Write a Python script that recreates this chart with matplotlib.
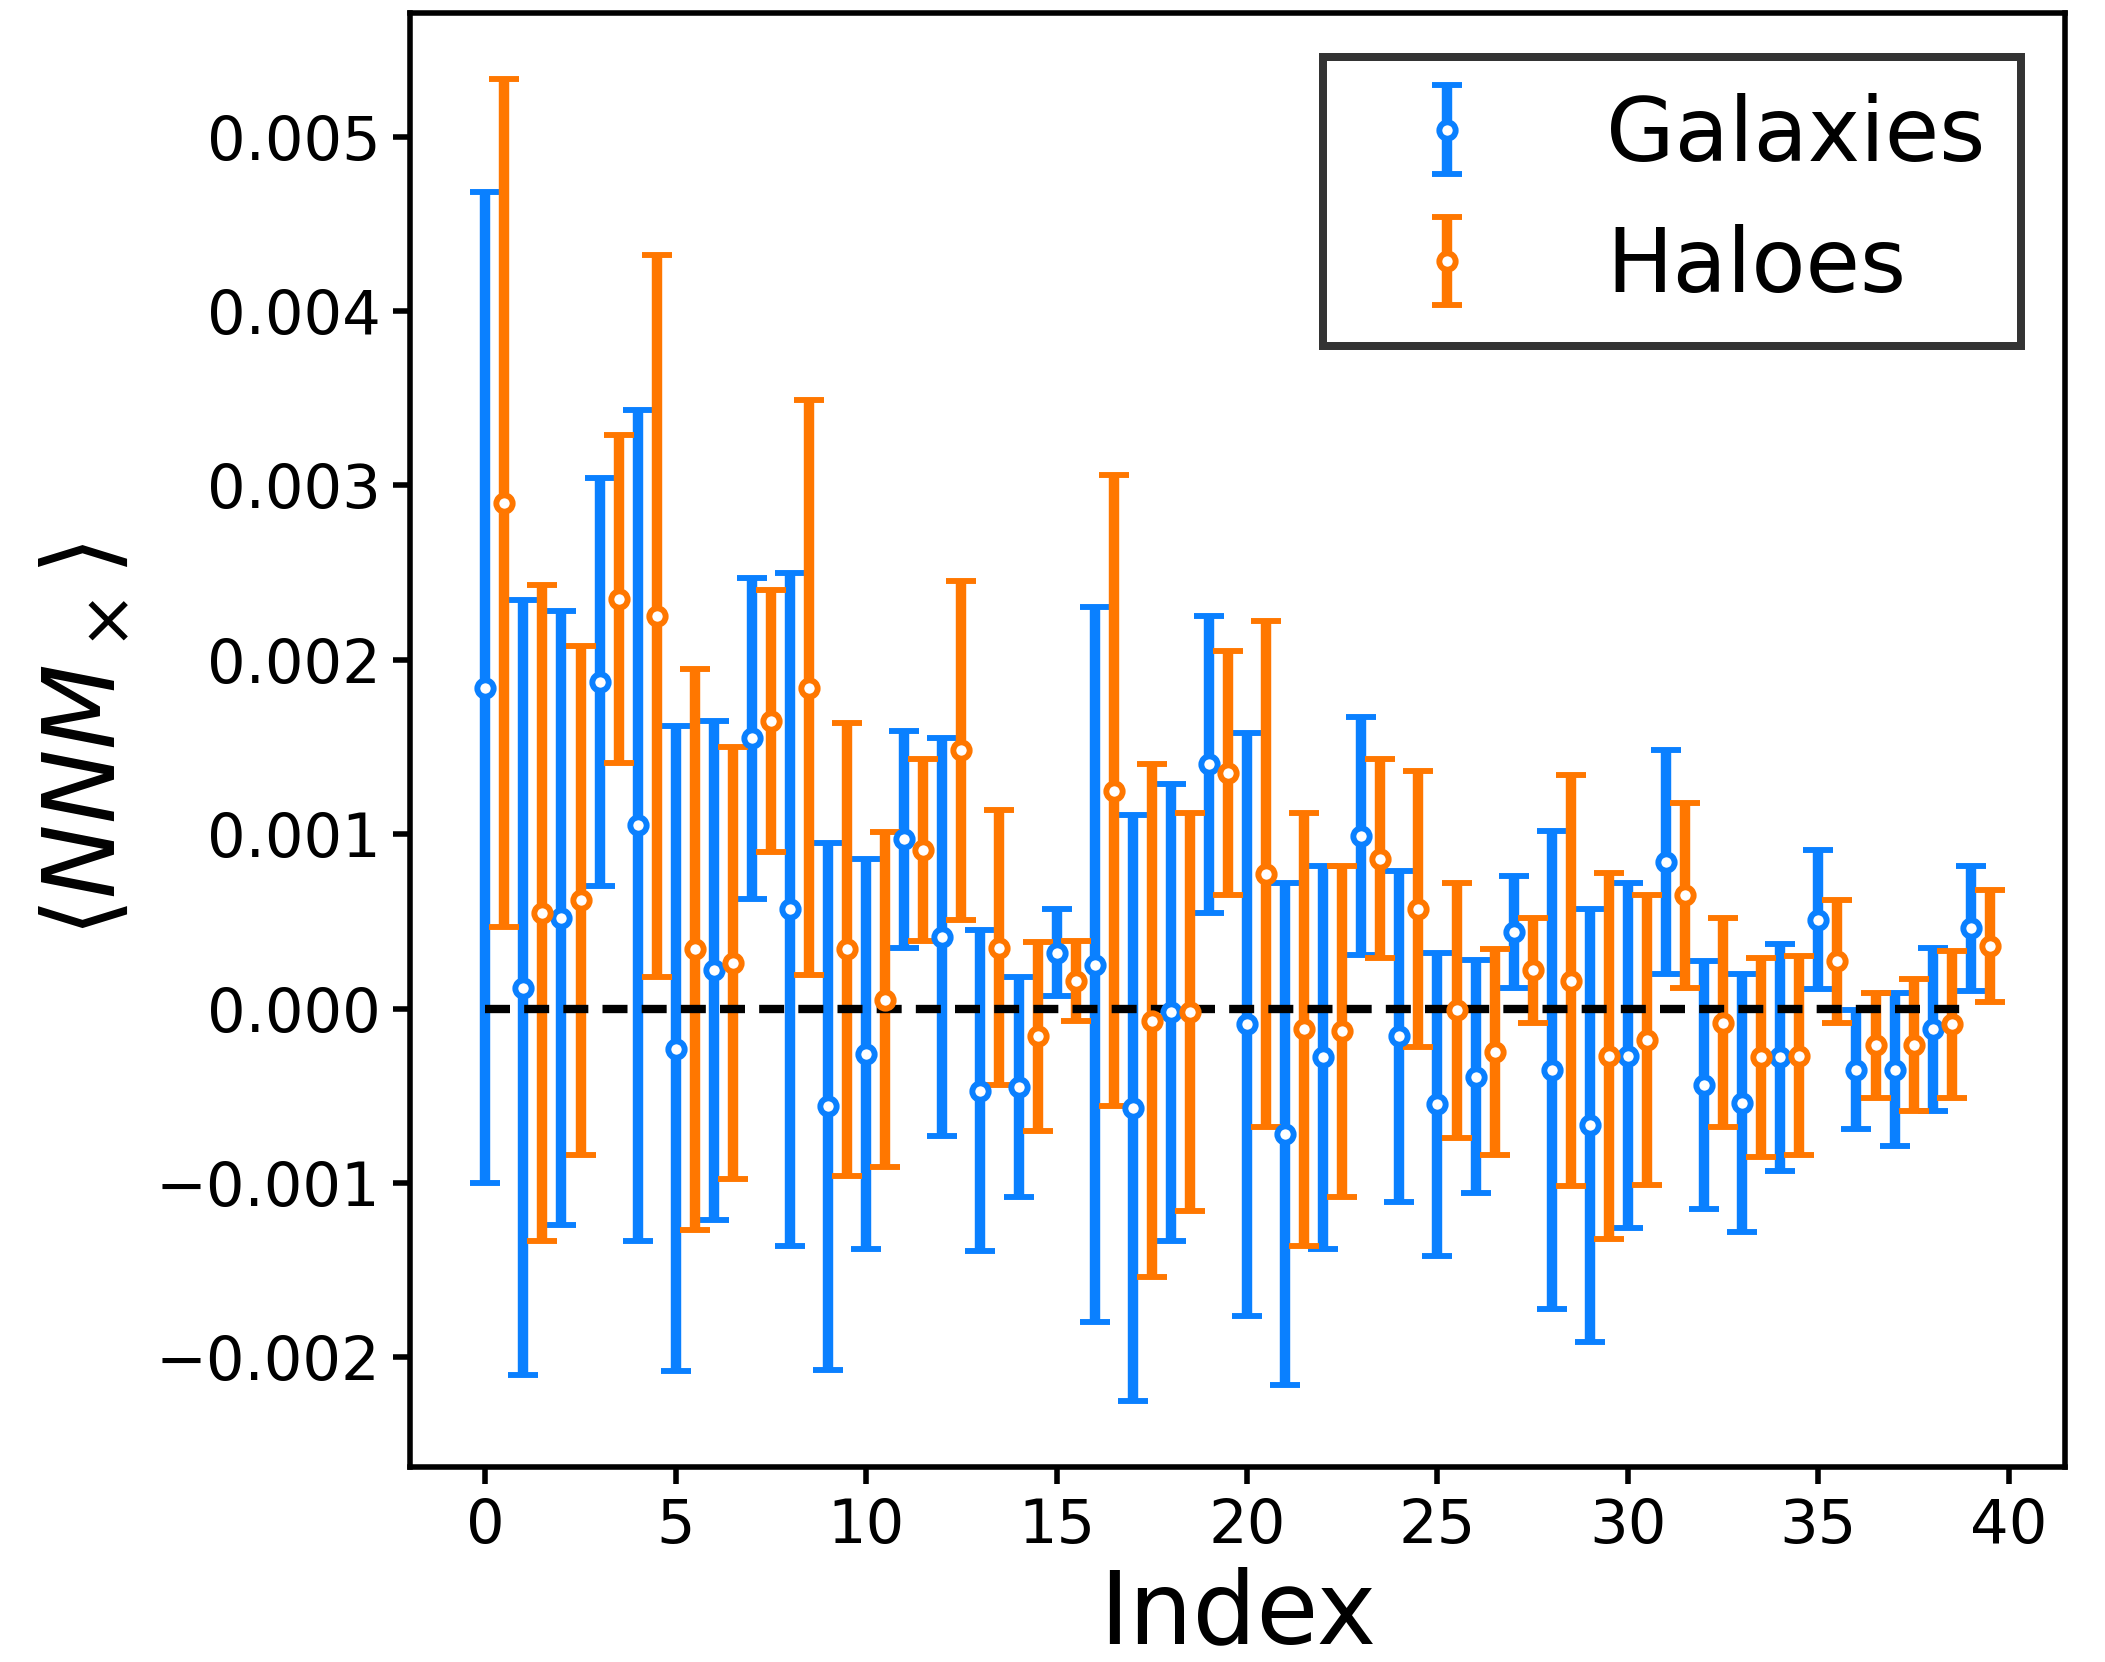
import numpy as np
import matplotlib
matplotlib.use("Agg")
import matplotlib.pyplot as plt

# galaxies sit on integer indices, haloes are shifted by half a step
gal_mean = [0.00184, 0.00012, 0.00052, 0.00187, 0.00105, -0.00023, 0.00022, 0.00155,
            0.00057, -0.00056, -0.00026, 0.00097, 0.00041, -0.00047, -0.00045, 0.00032,
            0.00025, -0.00057, -0.00002, 0.00140, -0.00009, -0.00072, -0.00028, 0.00099,
            -0.00016, -0.00055, -0.00039, 0.00044, -0.00035, -0.00067, -0.00027, 0.00084,
            -0.00044, -0.00054, -0.00028, 0.00051, -0.00035, -0.00035, -0.00012, 0.00046]
gal_err = [0.00284, 0.00222, 0.00176, 0.00117, 0.00238, 0.00185, 0.00143, 0.00092,
           0.00193, 0.00151, 0.00112, 0.00062, 0.00114, 0.00092, 0.00063, 0.00025,
           0.00205, 0.00168, 0.00131, 0.00085, 0.00167, 0.00144, 0.00110, 0.00068,
           0.00095, 0.00087, 0.00067, 0.00032, 0.00137, 0.00124, 0.00099, 0.00064,
           0.00071, 0.00074, 0.00065, 0.00040, 0.00034, 0.00044, 0.00047, 0.00036]

halo_mean = [0.00290, 0.00055, 0.00062, 0.00235, 0.00225, 0.00034, 0.00026, 0.00165,
             0.00184, 0.00034, 0.00005, 0.00091, 0.00148, 0.00035, -0.00016, 0.00016,
             0.00125, -0.00007, -0.00002, 0.00135, 0.00077, -0.00012, -0.00013, 0.00086,
             0.00057, -0.00001, -0.00025, 0.00022, 0.00016, -0.00027, -0.00018, 0.00065,
             -0.00008, -0.00028, -0.00027, 0.00027, -0.00021, -0.00021, -0.00009, 0.00036]
halo_err = [0.00243, 0.00188, 0.00146, 0.00094, 0.00207, 0.00161, 0.00124, 0.00075,
            0.00165, 0.00130, 0.00096, 0.00052, 0.00097, 0.00079, 0.00054, 0.00023,
            0.00181, 0.00147, 0.00114, 0.00070, 0.00145, 0.00124, 0.00095, 0.00057,
            0.00079, 0.00073, 0.00059, 0.00030, 0.00118, 0.00105, 0.00083, 0.00053,
            0.00060, 0.00057, 0.00057, 0.00035, 0.00030, 0.00038, 0.00042, 0.00032]

idx = np.arange(len(gal_mean))

blue = "#0A80FF"
orange = "#FF7700"

fig = plt.figure(figsize=(8.42, 6.648), dpi=250)
ax = fig.add_axes([0.1948, 0.1173, 0.7862, 0.8749])

style = dict(fmt="o", markersize=4.7, markeredgewidth=1.7, markerfacecolor="white",
             elinewidth=3.0, capsize=4.3, capthick=2.1)
ax.errorbar(idx, gal_mean, yerr=gal_err, color=blue, label="Galaxies", **style)
ax.errorbar(idx + 0.5, halo_mean, yerr=halo_err, color=orange, label="Haloes", **style)

# zero reference line over the bars
ax.plot(idx, np.zeros(len(idx)), color="k", lw=2.4, dashes=(3, 1.7))

ax.set_xlabel("Index", fontsize=29, labelpad=3)
ax.set_ylabel(r"$\langle NNM_\times \rangle$", fontsize=28.7, labelpad=6)
ax.tick_params(labelsize=17.5, length=5, width=1.6)
for s in ax.spines.values():
    s.set_linewidth(1.6)

leg = ax.legend(loc="upper right", fontsize=25.5, fancybox=False, framealpha=1,
                edgecolor="0.2", handletextpad=0.8)
leg.get_frame().set_linewidth(2.3)

fig.savefig("out.png", dpi=250)
